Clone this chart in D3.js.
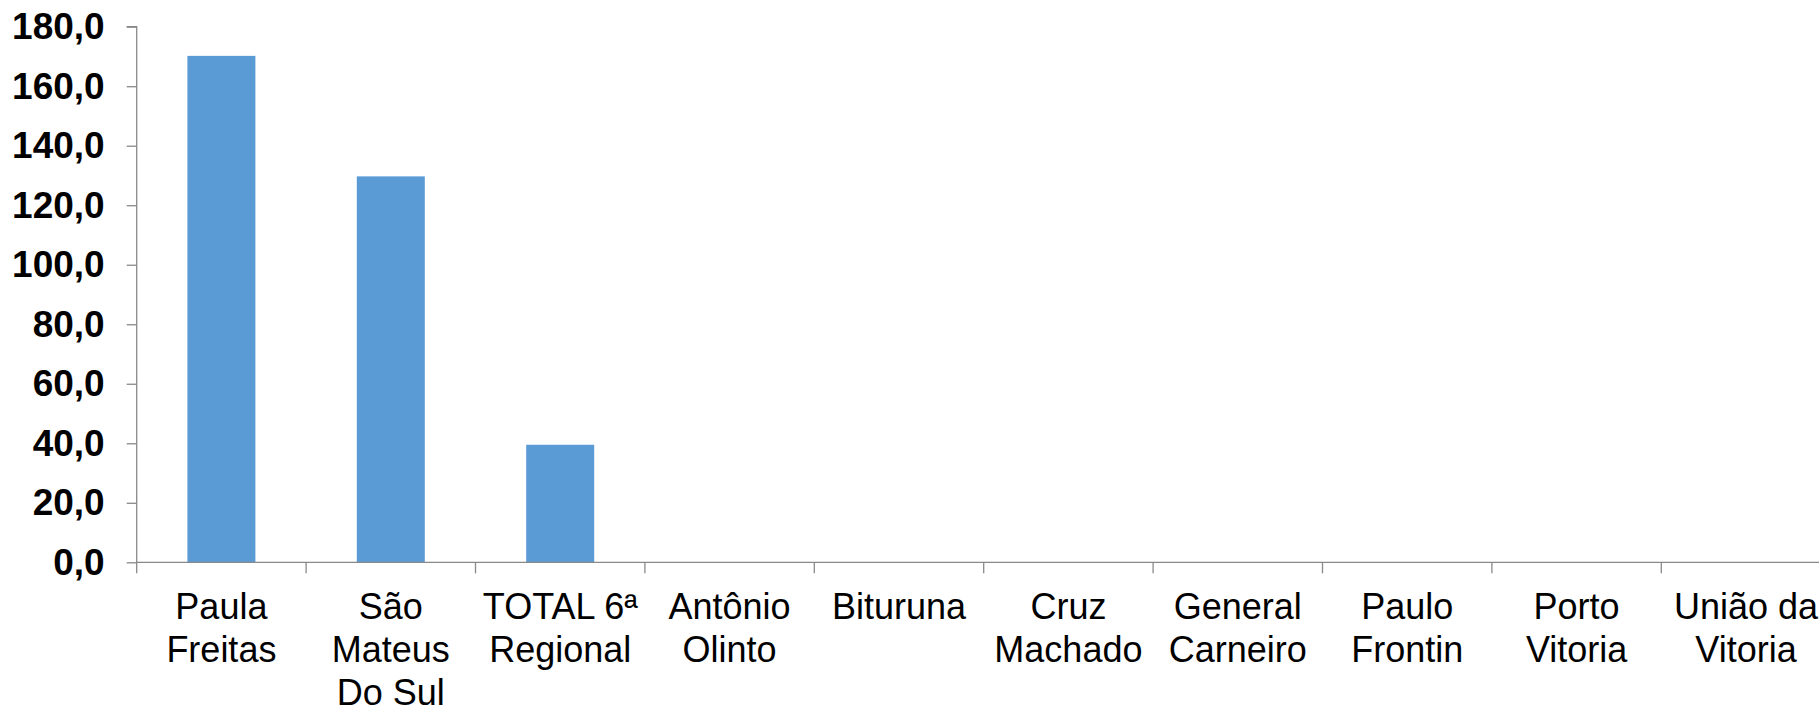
<!DOCTYPE html>
<html>
<head>
<meta charset="utf-8">
<script src="https://cdn.jsdelivr.net/npm/d3@7"></script>
<style>
  body { margin: 0; background: #fff; overflow: hidden; }
  svg { display: block; font-family: "Liberation Sans", Arial, sans-serif; }
</style>
</head>
<body>
<svg width="1819" height="705"></svg>
<script>
// categories (multi-line labels split by |)
const categories = ['Paula|Freitas', 'São|Mateus|Do Sul', 'TOTAL 6ª|Regional', 'Antônio|Olinto',
  'Bituruna', 'Cruz|Machado', 'General|Carneiro', 'Paulo|Frontin', 'Porto|Vitoria', 'União da|Vitoria'];
const values = [170.2, 129.7, 39.5, 0, 0, 0, 0, 0, 0, 0];
const yTicks = [0, 20, 40, 60, 80, 100, 120, 140, 160, 180];

const svg = d3.select('svg');
const axisColor = '#898989';

const x0 = 136.7, step = 169.4;
const yScale = d3.scaleLinear()
  .domain([0, 180])
  .range([562.3, 26.7]);

const xScale = d3.scaleBand()
  .domain(categories)
  .range([x0, x0 + step * categories.length])
  .paddingInner(1 - 68 / step)
  .paddingOuter((1 - 68 / step) / 2);

// bars
svg.selectAll('rect.bar')
  .data(categories.map((c, i) => ({ c, v: values[i] })))
  .enter()
  .append('rect')
  .attr('class', 'bar')
  .attr('x', d => xScale(d.c))
  .attr('y', d => yScale(d.v))
  .attr('width', xScale.bandwidth())
  .attr('height', d => yScale(0) - yScale(d.v))
  .attr('fill', '#5B9BD5');

// y axis
const yAxis = svg.append('g')
  .attr('transform', `translate(${x0},0)`)
  .call(d3.axisLeft(yScale).tickValues(yTicks).tickSize(10).tickPadding(22)
    .tickFormat(d => d3.format('.1f')(d).replace('.', ',')));
yAxis.select('.domain').attr('stroke', axisColor).attr('stroke-width', 1.3)
  .attr('d', `M-10,${yScale(180)}H0V${yScale(0)}`);
yAxis.selectAll('.tick line').attr('stroke', axisColor).attr('stroke-width', 1.3);
yAxis.selectAll('.tick text')
  .attr('fill', '#000')
  .style('font-size', '37px')
  .style('font-weight', 'bold')
  .style('font-family', '"Liberation Sans", Arial, sans-serif');

// x axis
const bandScaleTicks = d3.range(categories.length + 1).map(i => x0 + i * step);
const xAxis = svg.append('g');
xAxis.append('line')
  .attr('x1', x0).attr('x2', 1819)
  .attr('y1', yScale(0)).attr('y2', yScale(0))
  .attr('stroke', axisColor).attr('stroke-width', 1.3);
xAxis.selectAll('line.tk')
  .data(bandScaleTicks)
  .enter()
  .append('line')
  .attr('class', 'tk')
  .attr('x1', d => d).attr('x2', d => d)
  .attr('y1', yScale(0)).attr('y2', yScale(0) + 11)
  .attr('stroke', axisColor).attr('stroke-width', 1.3);

const lbl = xAxis.selectAll('text.cat')
  .data(categories)
  .enter()
  .append('text')
  .attr('class', 'cat')
  .attr('text-anchor', 'middle')
  .attr('fill', '#000')
  .style('font-size', '36px');
lbl.each(function (c) {
  const cx = xScale(c) + xScale.bandwidth() / 2;
  c.split('|').forEach((line, i) => {
    d3.select(this).append('tspan')
      .attr('x', cx)
      .attr('y', 619 + i * 43)
      .text(line);
  });
});
</script>
</body>
</html>
